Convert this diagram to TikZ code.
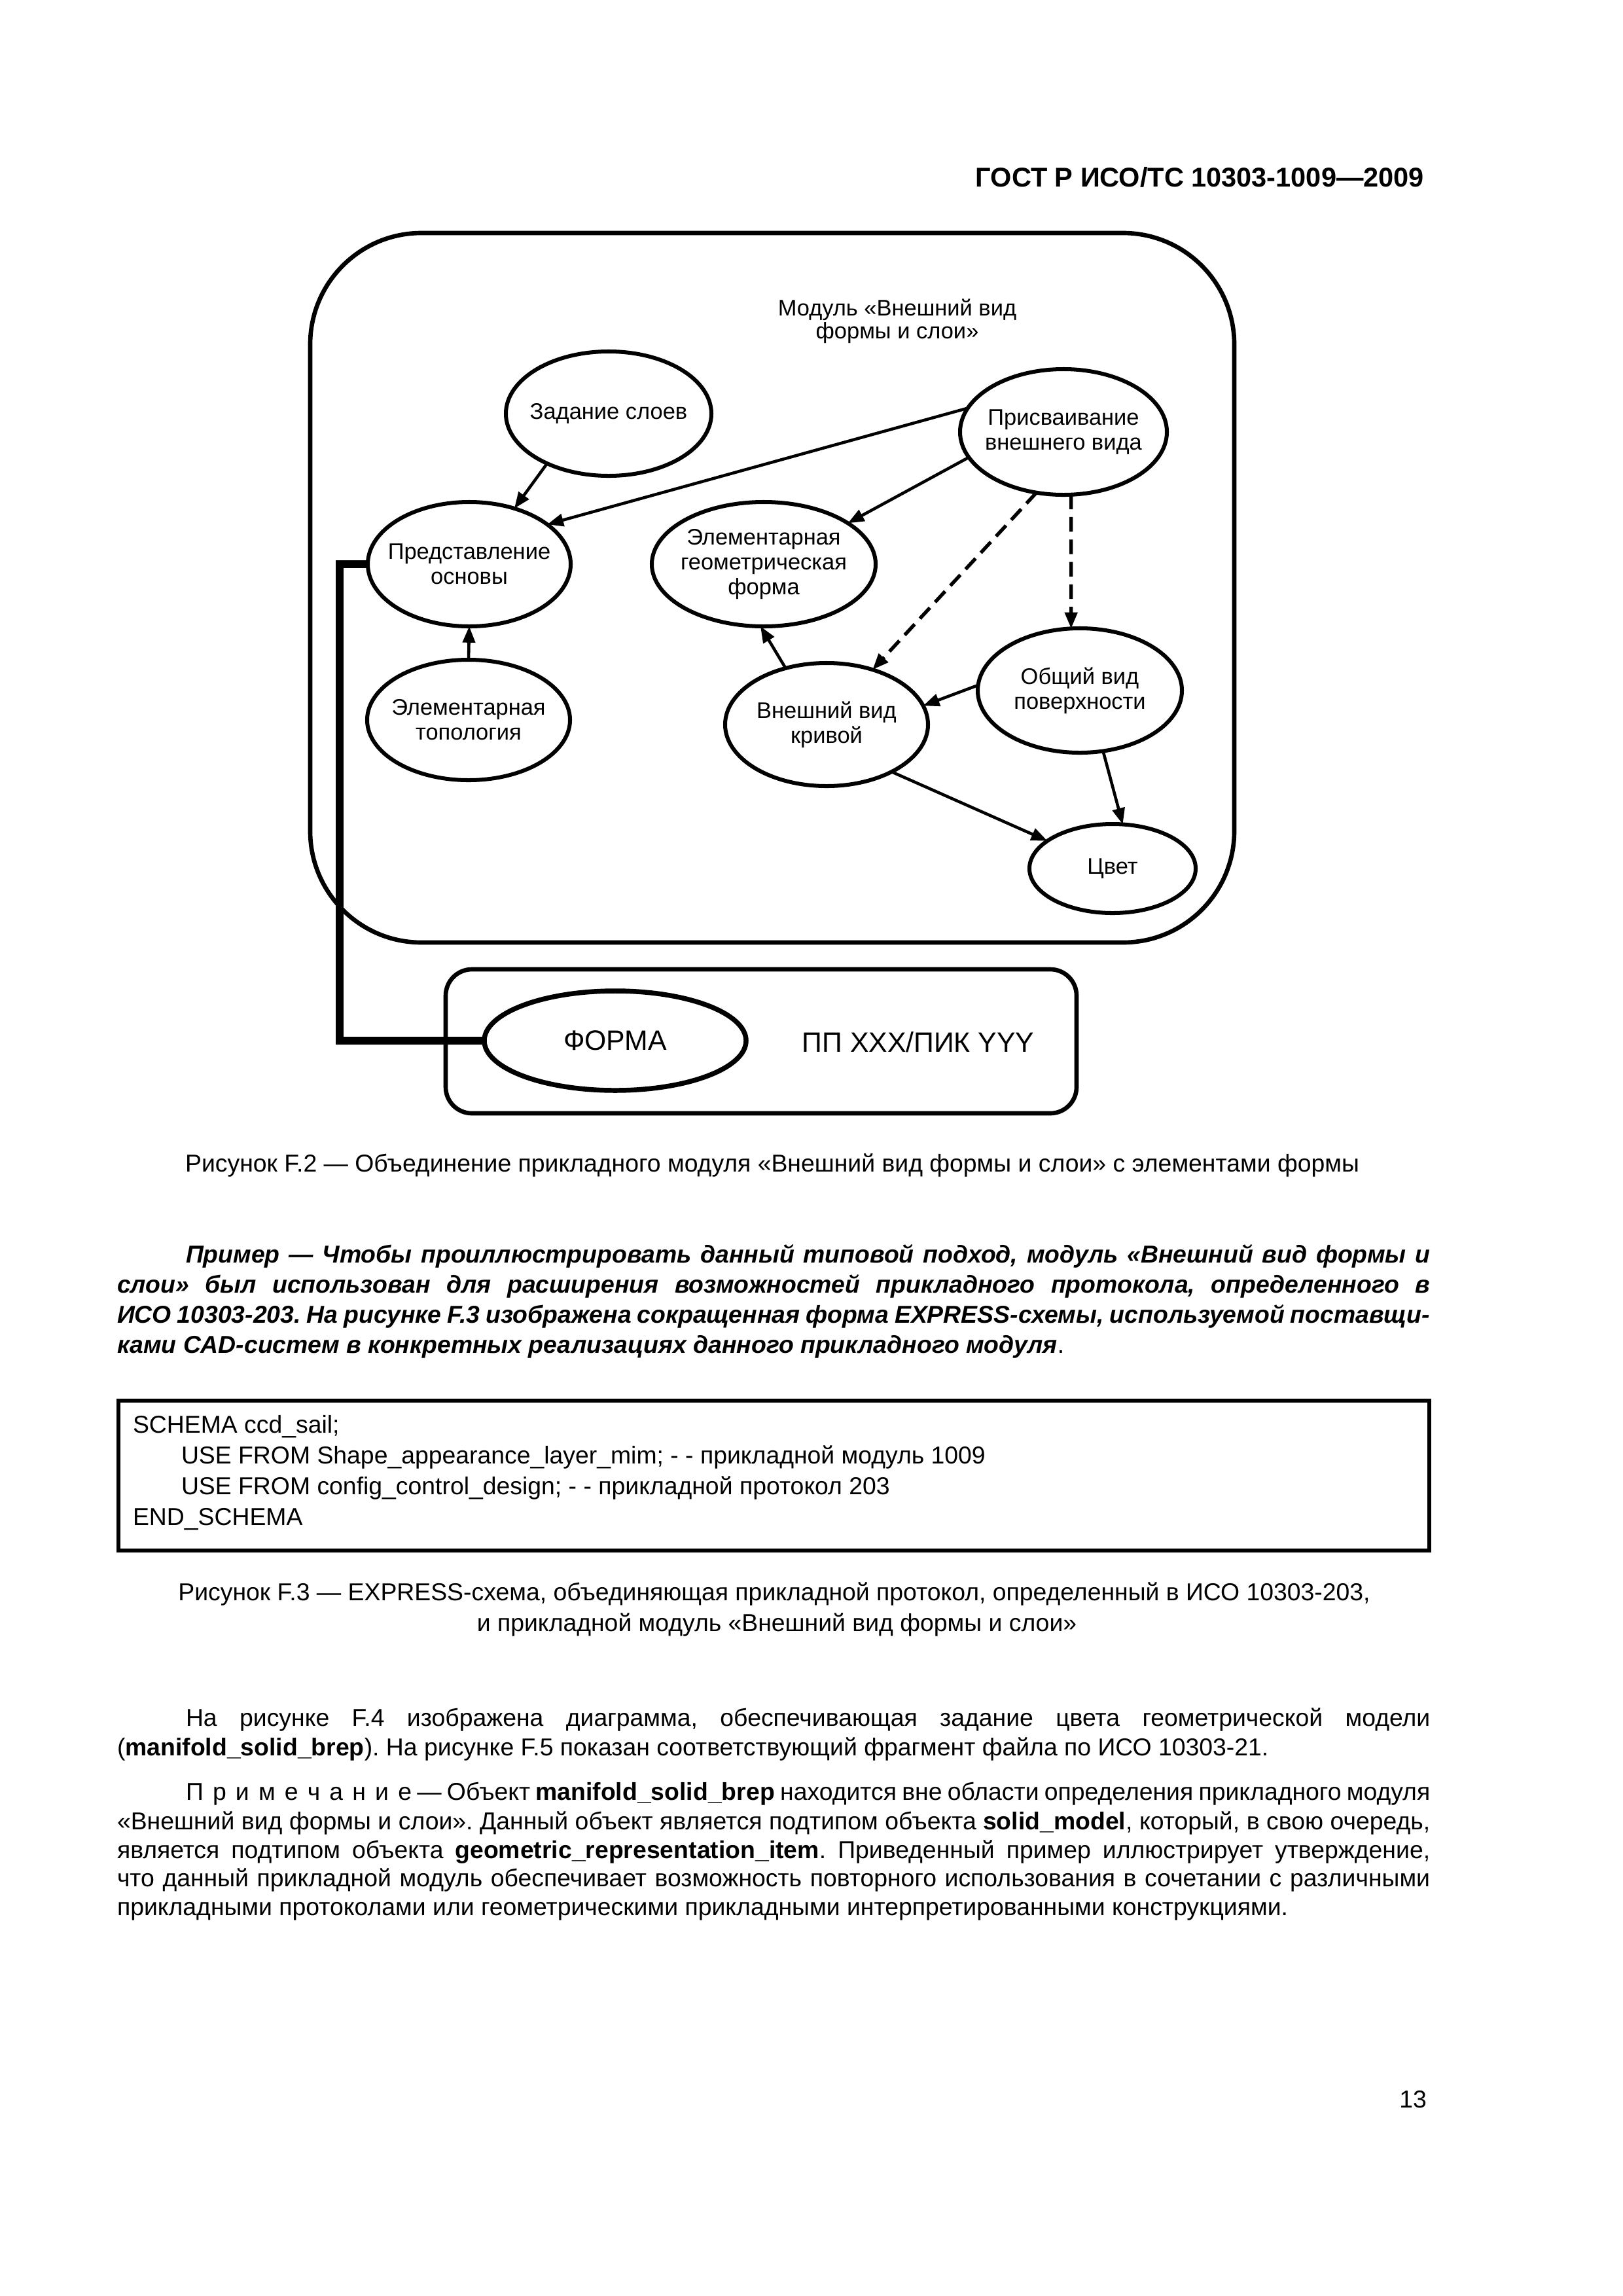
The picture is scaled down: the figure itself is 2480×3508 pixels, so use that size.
\documentclass[tikz,border=0pt]{standalone}
\usepackage{fontspec}
\setmainfont{Liberation Sans}
\usetikzlibrary{arrows.meta,shapes.geometric}
\frenchspacing
\newcommand{\jl}[2]{\hbox to #1{\spaceskip=0.278em plus 3em minus 0.15em\relax #2}}
\newcommand{\spc}{\kern1.2mm}
\begin{document}
\begin{tikzpicture}[x=0.084677mm,y=-0.084677mm,
 every node/.style={inner sep=0pt,outer sep=0pt},
 ell/.style 2 args={ellipse,draw,line width=1.45pt,minimum width={#1*0.169354mm},minimum height={#2*0.169354mm}},
 lbl/.style={align=center,font=\fontsize{8.3}{9.15}\selectfont},
 body/.style={anchor=base west,font=\fontsize{9}{11}\selectfont},
 bi/.style={anchor=base west,font=\fontsize{9}{11}\selectfont\bfseries\itshape},
 bodyc/.style={anchor=base,font=\fontsize{9}{11}\selectfont},
 arr/.style={line width=1.1pt,-{Triangle[length=2.1mm,width=1.6mm]}},
 darr/.style={line width=1.3pt,dash pattern=on 1.9mm off 1mm,-{Triangle[length=2.1mm,width=1.6mm]}},
 big/.style={font=\fontsize{10.3}{12}\selectfont}
]
\fill[white] (0,0) rectangle (2480,3508);
\useasboundingbox (0,0) rectangle (2480,3508);

% header
\node[anchor=base east,font=\bfseries\fontsize{10}{12}\selectfont] (hdr) at (2176,285) {ГОСТ Р ИСО/ТС 10303-1009—2009};

% module box
\draw[line width=1.6pt,rounded corners=14.4mm] (474,356) rectangle (1886,1440);
\node[lbl,anchor=base] (t1) at (1371,482) {Модуль «Внешний вид};
\node[lbl,anchor=base] (t2) at (1371,517) {формы и слои»};

% ellipses
\node[ell={157}{95}] (zad) at (930,632) {};
\node[lbl] (zadt) at (zad.center) {Задание слоев};
\node[ell={158}{96}] (pris) at (1625,660) {};
\node[lbl] (prist) at (pris.center) {Присваивание\\внешнего вида};
\node[ell={155}{95}] (pred) at (717,862) {};
\node[lbl] (predt) at (pred.center) {Представление\\основы};
\node[ell={171}{95}] (geom) at (1167,862) {};
\node[lbl] (geomt) at (geom.center) {Элементарная\\геометрическая\\форма};
\node[ell={155}{92}] (topo) at (716,1100) {};
\node[lbl] (topot) at (topo.center) {Элементарная\\топология};
\node[ell={155}{94}] (kriv) at (1263,1107) {};
\node[lbl] (krivt) at (kriv.center) {Внешний вид\\кривой};
\node[ell={156}{95}] (obsh) at (1650,1055) {};
\node[lbl] (obsht) at (obsh.center) {Общий вид\\поверхности};
\node[ell={127}{68}] (cvet) at (1700,1327) {};
\node[lbl] (cvett) at (cvet.center) {Цвет};

% arrows
\draw[arr] (zad.219) -- (pred.51);
\draw[arr] (pris.166) -- (pred.27);
\draw[arr] (pris.195) -- (geom.26);
\draw[darr] (pris.246) -- (kriv.50);
\draw[darr] (pris.277) -- (obsh.98);
\draw[arr] (obsh.177) -- (kriv.11);
\draw[arr] (kriv.126) -- (geom.267);
\draw[arr] (topo.north) -- (pred.south);
\draw[arr] (kriv.324) -- (cvet.157);
\draw[arr] (obsh.291) -- (cvet.77);

% lower box
\draw[line width=1.6pt,rounded corners=3.4mm] (681,1481) rectangle (1645,1701);
\node[ell={200}{76},line width=1.8pt] (forma) at (940,1590) {};
\node[big] (format) at (forma.center) {ФОРМА};
\node[big] (pp) at (1403,1592) {ПП XXX/ПИК YYY};

% thick connector
\coordinate (c1) at (519,862);
\coordinate (c2) at (519,1590);
\draw[line width=2.9pt] (pred.west) -- (c1) -- (c2) -- (forma.west);

% caption F.2
\node[bodyc] (cap2) at (1180,1790) {Рисунок F.2 — Объединение прикладного модуля «Внешний вид формы и слои» с элементами формы};

% example
\node[bi] (ex1) at (284,1929) {\jl{160.98mm}{Пример — Чтобы проиллюстрировать данный типовой подход, модуль «Внешний вид формы и}};
\node[bi] (ex2) at (179,1975) {\jl{169.86mm}{слои» был использован для расширения возможностей прикладного протокола, определенного в}};
\node[bi] (ex3) at (179,2021) {\jl{169.86mm}{ИСО 10303-203. На рисунке F.3 изображена сокращенная форма EXPRESS-схемы, используемой поставщи-}};
\node[body] (ex4) at (179,2067) {{\bfseries\itshape ками CAD-систем в конкретных реализациях данного прикладного модуля}.};

% code box
\draw[line width=1.5pt] (181,2140) rectangle (2184,2369);
\node[body] (cd1) at (203,2189) {SCHEMA ccd\_sail;};
\node[body] (cd2) at (277,2236) {USE FROM Shape\_appearance\_layer\_mim; - - прикладной модуль 1009};
\node[body] (cd3) at (277,2283) {USE FROM config\_control\_design; - - прикладной протокол 203};
\node[body] (cd4) at (203,2330) {END\_SCHEMA};

% caption F.3
\node[bodyc] (cap3a) at (1183,2445) {Рисунок F.3 — EXPRESS-схема, объединяющая прикладной протокол, определенный в ИСО 10303-203,};
\node[bodyc] (cap3b) at (1187,2492) {и прикладной модуль «Внешний вид формы и слои»};

% paragraph F.4
\node[body] (pa1) at (284,2637) {\jl{160.98mm}{На рисунке F.4 изображена диаграмма, обеспечивающая задание цвета геометрической модели}};
\node[body] (pa2) at (179,2682) {(\textbf{manifold\_solid\_brep}). На рисунке F.5 показан соответствующий фрагмент файла по ИСО 10303-21.};

% note
\node[body] (nt1) at (284,2750) {\jl{160.98mm}{П\spc р\spc и\spc м\spc е\spc ч\spc а\spc н\spc и\spc е — Объект \textbf{manifold\_solid\_brep} находится вне области определения прикладного модуля}};
\node[body] (nt2) at (179,2795) {\jl{169.86mm}{«Внешний вид формы и слои». Данный объект является подтипом объекта \textbf{solid\_model}, который, в свою очередь,}};
\node[body] (nt3) at (179,2839) {\jl{169.86mm}{является подтипом объекта \textbf{geometric\_representation\_item}. Приведенный пример иллюстрирует утверждение,}};
\node[body] (nt4) at (179,2882) {\jl{169.86mm}{что данный прикладной модуль обеспечивает возможность повторного использования в сочетании с различными}};
\node[body] (nt5) at (179,2926) {прикладными протоколами или геометрическими прикладными интерпретированными конструкциями.};

% page number
\node[anchor=base east,font=\fontsize{9}{11}\selectfont] (pg) at (2180,3220) {13};
\end{tikzpicture}
\end{document}
